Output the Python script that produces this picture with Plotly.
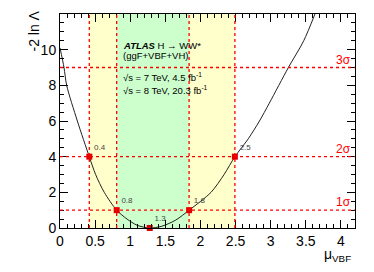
import plotly.graph_objects as go

# Likelihood scan curve
mu_vals = [0.0, 0.057, 0.095, 0.247, 0.417, 0.507, 0.630, 0.807, 0.955, 1.10, 1.278,
           1.45, 1.65, 1.838, 2.15, 2.336, 2.49, 2.68, 2.84, 2.98, 3.252, 3.47, 3.63]
nll_vals = [10.1, 9.0, 8.0, 6.0, 4.0, 3.0, 2.0, 1.0, 0.5, 0.15, 0.0,
            0.1, 0.45, 1.0, 2.0, 3.0, 4.0, 5.0, 6.0, 7.0, 9.0, 10.5, 12.0]

# Crossing points
cross_mu = [0.417, 0.807, 1.278, 1.838, 2.49]
cross_nll = [4.0, 1.0, 0.0, 1.0, 4.0]
cross_labels = ["0.4", "0.8", "1.3", "1.8", "2.5"]

# Sigma levels
sigma_levels = [1, 4, 9]
sigma_labels = ["1σ", "2σ", "3σ"]

# Intervals
one_sigma = [0.807, 1.838]
two_sigma = [0.417, 2.49]

x_range = [0, 4.2]
y_range = [0, 12]
x_ticks = [0, 0.5, 1, 1.5, 2, 2.5, 3, 3.5, 4]
y_ticks = [0, 2, 4, 6, 8, 10, 12]

FONT = "Liberation Sans, Arial, sans-serif"
RED = "#ff0000"

fig = go.Figure()

shapes = []
shapes.append(dict(type="rect", xref="x", yref="y", x0=two_sigma[0], x1=two_sigma[1],
                   y0=y_range[0], y1=y_range[1], fillcolor="#ffffcc", line_width=0, layer="below"))
shapes.append(dict(type="rect", xref="x", yref="y", x0=one_sigma[0], x1=one_sigma[1],
                   y0=y_range[0], y1=y_range[1], fillcolor="#ccffcc", line_width=0, layer="below"))
for lv in sigma_levels:
    shapes.append(dict(type="line", xref="x", yref="y", x0=x_range[0], x1=x_range[1], y0=lv, y1=lv,
                       line=dict(color=RED, width=1.3, dash="dot"), layer="above"))
for m, v in zip(cross_mu, cross_nll):
    if v > 0:
        shapes.append(dict(type="line", xref="x", yref="y", x0=m, x1=m, y0=y_range[0], y1=y_range[1],
                           line=dict(color=RED, width=1.3, dash="dot"), layer="above"))

fig.add_trace(go.Scatter(x=mu_vals, y=nll_vals, mode="lines",
                         line=dict(color="#222222", width=1, shape="spline", smoothing=0.8),
                         hoverinfo="skip", showlegend=False))
fig.add_trace(go.Scatter(x=cross_mu, y=cross_nll, mode="markers+text",
                         marker=dict(symbol="square", size=6, color="#dd0000"),
                         text=cross_labels, textposition="top right",
                         textfont=dict(family=FONT, size=8, color="#444444"),
                         cliponaxis=False, showlegend=False))

annotations = []
for lv, lab in zip(sigma_levels, sigma_labels):
    annotations.append(dict(x=1.0, xref="paper", y=lv, yref="y", text=lab, showarrow=False,
                            xanchor="right", yanchor="bottom", xshift=-2, yshift=-1,
                            font=dict(family=FONT, size=12, color=RED)))

TX = 0.87
TFS = 9.5
annotations.append(dict(x=TX, xref="x", y=10.26, yref="y", xanchor="left", yanchor="middle",
                        text="<b><i>ATLAS</i></b> H → WW*", showarrow=False,
                        font=dict(family=FONT, size=TFS, color="black")))
annotations.append(dict(x=TX, xref="x", y=9.65, yref="y", xanchor="left", yanchor="middle",
                        text="(ggF+VBF+VH)", showarrow=False,
                        font=dict(family=FONT, size=TFS, color="black")))
annotations.append(dict(x=TX, xref="x", y=8.47, yref="y", xanchor="left", yanchor="middle",
                        text="√s = 7 TeV, 4.5 fb<sup>-1</sup>", showarrow=False,
                        font=dict(family=FONT, size=TFS, color="black")))
annotations.append(dict(x=TX, xref="x", y=7.74, yref="y", xanchor="left", yanchor="middle",
                        text="√s = 8 TeV, 20.3 fb<sup>-1</sup>", showarrow=False,
                        font=dict(family=FONT, size=TFS, color="black")))

# axis titles
annotations.append(dict(x=-0.0915, xref="paper", y=1.0, yref="paper", text="-2 ln Λ", textangle=-90,
                        showarrow=False, xanchor="center", yanchor="top", yshift=5,
                        font=dict(family=FONT, size=14, color="black")))
annotations.append(dict(x=1.0, xref="paper", y=-0.075, yref="paper", text="μ<sub>VBF</sub>",
                        showarrow=False, xanchor="right", yanchor="top", xshift=-2,
                        font=dict(family=FONT, size=14, color="black")))

# page body adds an 8px margin; figure sized/margined to compensate
fig.update_layout(
    width=358, height=256,
    margin=dict(l=52, r=11, t=6, b=36, autoexpand=False),
    paper_bgcolor="white", plot_bgcolor="white",
    shapes=shapes, annotations=annotations,
    font=dict(family=FONT, size=14, color="black"),
    showlegend=False,
)
fig.update_xaxes(range=x_range, tickvals=x_ticks, ticks="inside", ticklen=8, tickcolor="black",
                 showline=True, linecolor="black", linewidth=1, mirror="allticks", showgrid=False,
                 zeroline=False, tickfont=dict(family=FONT, size=14), automargin=False,
                 minor=dict(dtick=0.1, ticks="inside", ticklen=4, tickcolor="black", showgrid=False))
fig.update_yaxes(range=y_range, tickvals=y_ticks, ticks="inside", ticklen=8, tickcolor="black",
                 showline=True, linecolor="black", linewidth=1, mirror="allticks", showgrid=False,
                 zeroline=False, tickfont=dict(family=FONT, size=14), automargin=False,
                 minor=dict(dtick=0.5, ticks="inside", ticklen=4, tickcolor="black", showgrid=False))

fig.write_html("out.html")
